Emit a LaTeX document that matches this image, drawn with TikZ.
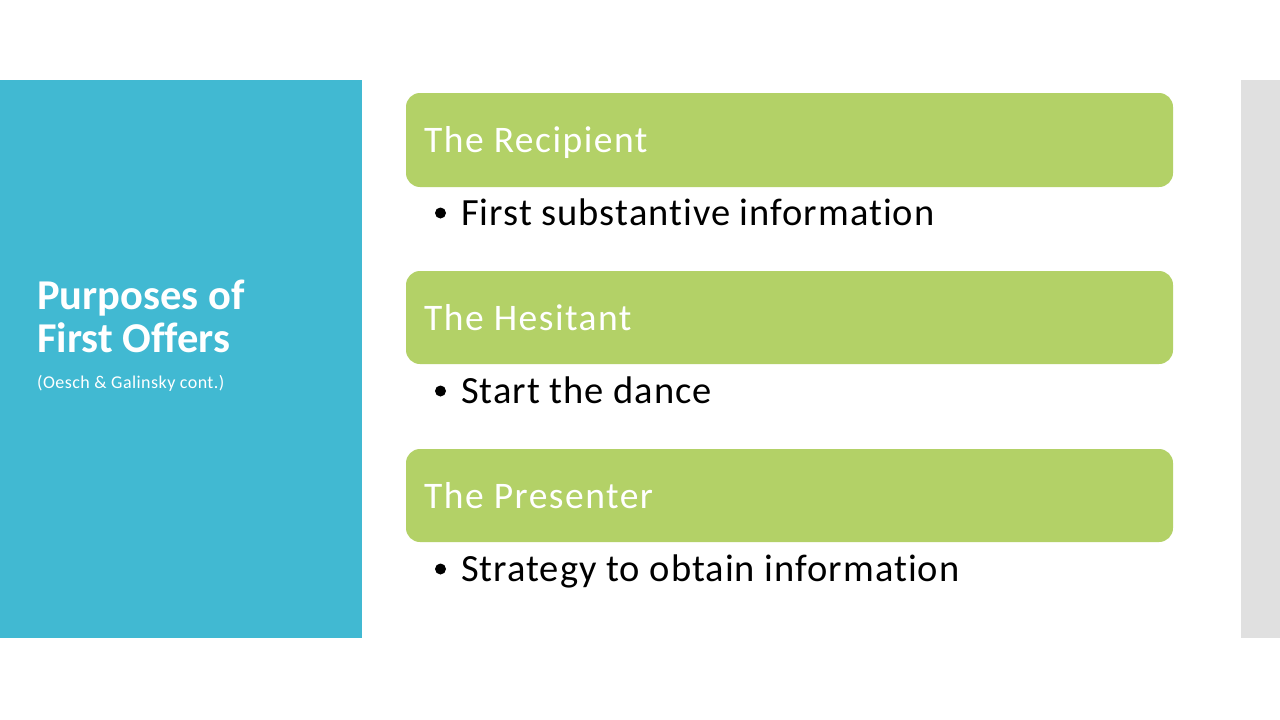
\documentclass[tikz,border=0pt]{standalone}
\usepackage{fontspec}
\setmainfont[Ligatures=NoCommon]{Carlito}
\definecolor{panelblue}{RGB}{65,185,210}
\definecolor{panelgray}{RGB}{224,224,224}
\definecolor{boxgreen}{RGB}{179,209,103}
\tikzset{
  greenbox/.style={fill=boxgreen, draw=none, rounded corners=14pt},
  boxlabel/.style={anchor=base west, inner sep=0pt, text=white, font=\fontsize{37.5}{44}\selectfont\addfontfeatures{LetterSpace=4}},
  bullettext/.style={anchor=base west, inner sep=0pt, text=black, font=\fontsize{38.5}{46}\selectfont\addfontfeatures{LetterSpace=2.6}},
  bulletdot/.style={circle, fill=black, inner sep=0pt, minimum size=11pt},
}
\begin{document}
\begin{tikzpicture}[x=1pt,y=-1pt]
\useasboundingbox (0,0) rectangle (1280,720);
\fill[white] (0,0) rectangle (1280,720);
\fill[panelblue] (0,80) rectangle (362,638);
\fill[panelgray] (1241,80) rectangle (1280,638);
\node[anchor=base west, inner sep=0pt, text=white, align=left,
  font=\bfseries\fontsize{42.5}{43}\selectfont] (title) at (37,352) {Purposes of\\First Offers};
\node[anchor=base west, inner sep=0pt, text=white, font=\fontsize{18}{20}\selectfont\addfontfeatures{LetterSpace=2.5}] (sub) at (37,388) {(Oesch \& Galinsky cont.)};
% boxes
\path[greenbox] (406,93) rectangle (1173,187);
\path[greenbox] (406,271) rectangle (1173,364);
\path[greenbox] (406,449) rectangle (1173,542);
\node[boxlabel] (b1) at (424,152) {The Recipient};
\node[boxlabel] (b2) at (424,330) {The Hesitant};
\node[boxlabel] (b3) at (424,508) {The Presenter};
\node[bulletdot] (d1) at (440.5,213) {};
\node[bulletdot] (d2) at (440.5,391) {};
\node[bulletdot] (d3) at (440.5,569) {};
\node[bullettext] (t1) at (461,225) {First substantive information};
\node[bullettext] (t2) at (461,403) {Start the dance};
\node[bullettext] (t3) at (461,581) {Strategy to obtain information};
\end{tikzpicture}
\end{document}
